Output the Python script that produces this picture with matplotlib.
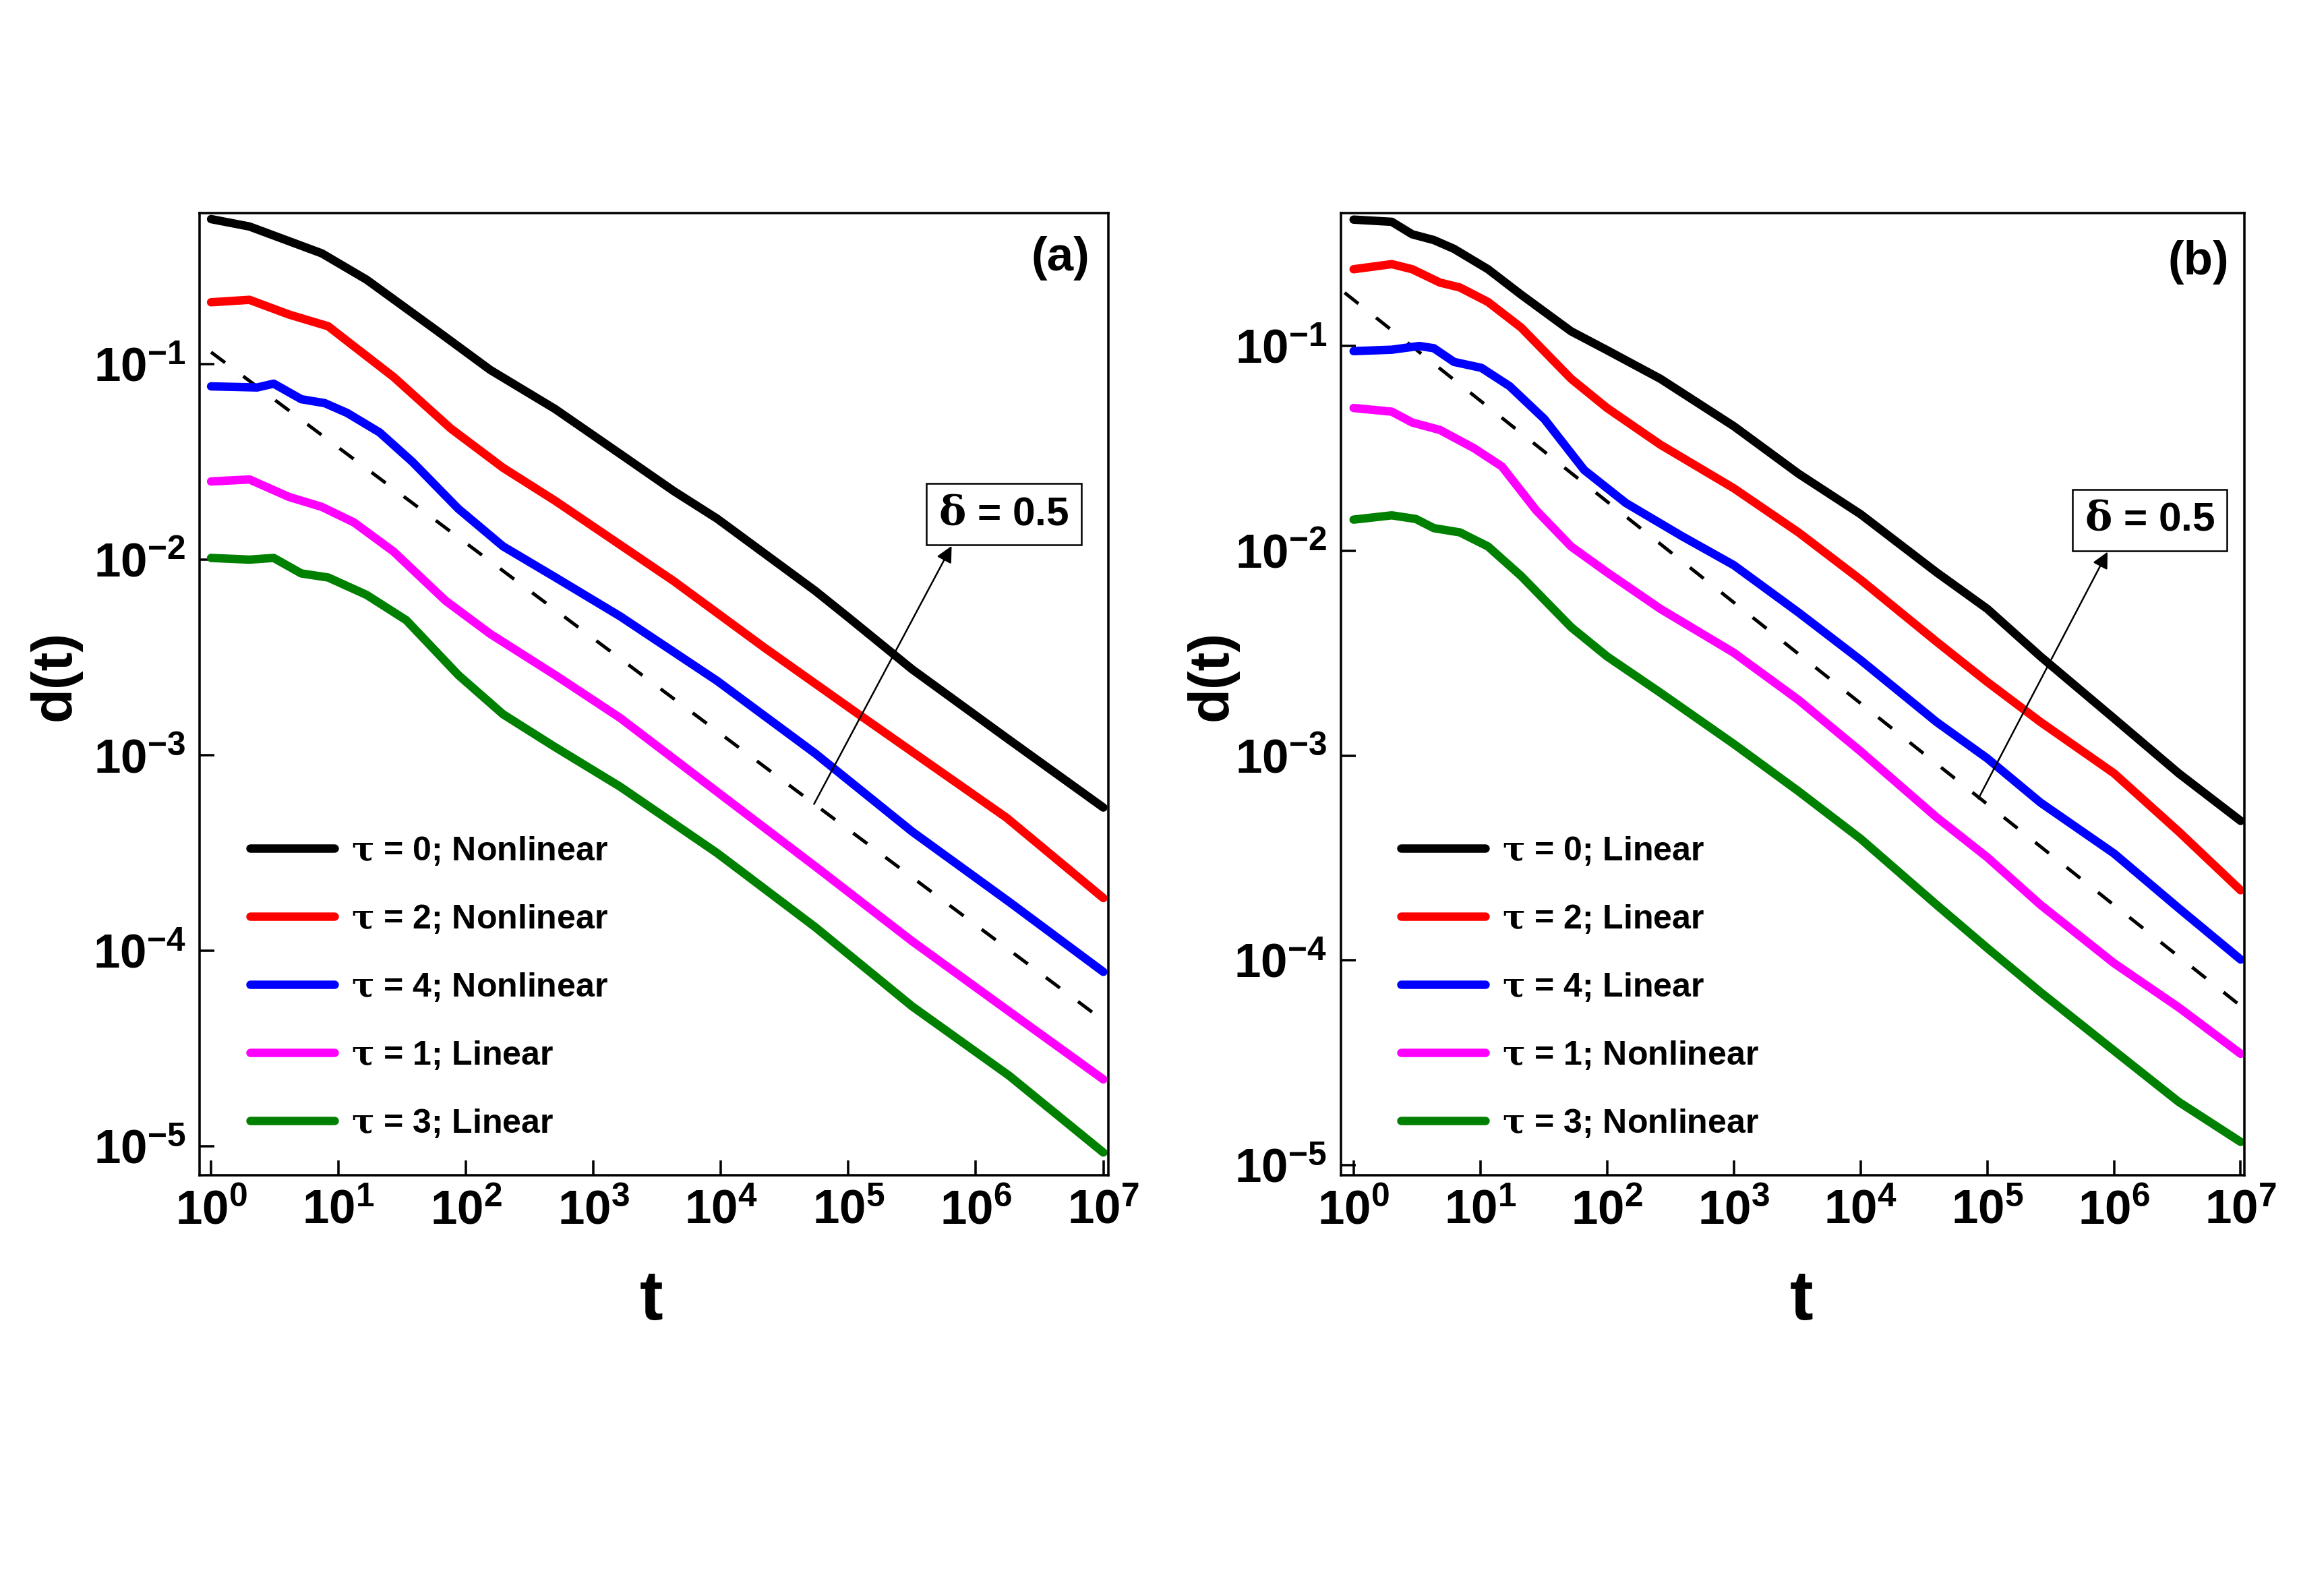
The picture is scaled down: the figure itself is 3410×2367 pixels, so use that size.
import matplotlib
matplotlib.use('Agg')
import matplotlib.pyplot as plt
from matplotlib.ticker import FixedLocator, NullLocator

plt.rcParams['font.family'] = ['Liberation Sans', 'DejaVu Sans']
plt.rcParams['font.weight'] = 'bold'
plt.rcParams['mathtext.fontset'] = 'custom'
plt.rcParams['mathtext.rm'] = 'DejaVu Serif'
plt.rcParams['mathtext.it'] = 'DejaVu Serif:italic'
plt.rcParams['mathtext.bf'] = 'Liberation Sans:bold'

# ---------------- panel (a) data ----------------
a_black_t = [1, 2.0, 7.4, 16.6, 60, 155, 500, 1620, 4270, 9330, 5.5e4, 1.02e5, 3.16e5, 1.82e6, 1e7]
a_black_d = [0.551, 0.505, 0.368, 0.270, 0.147, 0.0933, 0.0589, 0.0347, 0.0224, 0.0162, 0.00692, 0.00501,
             0.00275, 0.00120, 5.4e-4]

a_red_t = [1, 2.0, 4.1, 8.3, 11.7, 27, 76, 195, 500, 4270, 2.19e4, 1.2e5, 1.74e6, 1e7]
a_red_d = [0.207, 0.213, 0.179, 0.156, 0.131, 0.0859, 0.0468, 0.0295, 0.0200, 0.00776, 0.00355, 0.00162,
           4.79e-4, 1.86e-4]

a_blue_t = [1, 2.3, 3.1, 5.1, 7.8, 11.7, 21, 38, 87, 195, 500, 1620, 9330, 5.5e4, 3.16e5, 1.82e6, 1e7]
a_blue_d = [0.0769, 0.0759, 0.0794, 0.0661, 0.0631, 0.0562, 0.0447, 0.0316, 0.0182, 0.0117, 0.00813, 0.00513,
            0.00240, 0.00102, 4.07e-4, 1.78e-4, 7.8e-5]

a_mag_t = [1, 2.0, 4.1, 7.4, 13.2, 27, 69, 155, 500, 1620, 9330, 5.5e4, 3.16e5, 1.82e6, 1e7]
a_mag_d = [0.0251, 0.0257, 0.0209, 0.0186, 0.0155, 0.0110, 0.00617, 0.00417, 0.00257, 0.00155, 6.5e-4, 2.7e-4,
           1.12e-4, 4.9e-5, 2.2e-5]

a_green_t = [1, 2.0, 3.1, 5.1, 8.3, 16.6, 34, 87, 195, 500, 1620, 9330, 5.5e4, 3.16e5, 1.82e6, 1e7]
a_green_d = [0.0102, 0.0100, 0.0102, 0.0085, 0.0081, 0.0066, 0.0049, 0.00257, 0.00162, 0.00110, 6.9e-4, 3.16e-4,
             1.32e-4, 5.2e-5, 2.3e-5, 9.3e-6]

a_fit_t = [1, 1e7]
a_fit_d = [0.115, 4.4e-5]

a_labels = ['$\\mathrm{\\tau}$ = 0; Nonlinear', '$\\mathrm{\\tau}$ = 2; Nonlinear', '$\\mathrm{\\tau}$ = 4; Nonlinear',
            '$\\mathrm{\\tau}$ = 1; Linear', '$\\mathrm{\\tau}$ = 3; Linear']

# ---------------- panel (b) data ----------------
b_black_t = [1, 2.0, 2.9, 4.3, 6.2, 11.5, 21, 52, 98, 263, 1e3, 3240, 1e4, 3.98e4, 1e5, 2.63e5, 1e6, 3.24e6, 1e7]
b_black_d = [0.414, 0.404, 0.351, 0.329, 0.298, 0.237, 0.178, 0.118, 0.0960, 0.0692, 0.0406, 0.0238, 0.0151,
             0.00785, 0.00521, 0.00305, 0.00152, 8.2e-4, 4.8e-4]

b_red_t = [1, 2.0, 2.9, 4.8, 6.9, 11.5, 21, 52, 100, 263, 1e3, 3240, 1e4, 3.98e4, 1e5, 2.63e5, 1e6, 3.24e6, 1e7]
b_red_d = [0.237, 0.251, 0.237, 0.204, 0.193, 0.164, 0.123, 0.0692, 0.0498, 0.0330, 0.0202, 0.0123, 0.00723,
           0.00360, 0.00229, 0.00146, 8.2e-4, 4.26e-4, 2.2e-4]

b_blue_t = [1, 2.0, 3.3, 4.3, 6.2, 10.2, 17, 32, 66, 141, 389, 1e3, 3240, 1e4, 3.98e4, 1e5, 2.63e5, 1e6, 3.24e6, 1e7]
b_blue_d = [0.0944, 0.0959, 0.100, 0.0975, 0.0836, 0.0782, 0.0637, 0.0440, 0.0248, 0.0171, 0.0118, 0.00851,
            0.00500, 0.00293, 0.00146, 9.7e-4, 5.9e-4, 3.33e-4, 1.80e-4, 1.01e-4]

b_mag_t = [1, 2.0, 2.9, 4.8, 8.9, 14.8, 27.5, 52, 100, 263, 1e3, 3240, 1e4, 3.98e4, 1e5, 2.63e5, 1e6, 3.24e6, 1e7]
b_mag_d = [0.0498, 0.0478, 0.0423, 0.0389, 0.0317, 0.0258, 0.0158, 0.0105, 0.00785, 0.00521, 0.00318, 0.00187,
           0.00105, 5.0e-4, 3.19e-4, 1.87e-4, 9.7e-5, 5.9e-5, 3.5e-5]

b_green_t = [1, 2.0, 3.1, 4.3, 6.9, 11.5, 21, 52, 100, 263, 1e3, 3240, 1e4, 3.98e4, 1e5, 2.63e5, 1e6, 3.24e6, 1e7]
b_green_d = [0.0142, 0.0149, 0.0143, 0.0129, 0.0123, 0.0105, 0.00753, 0.00424, 0.00305, 0.00203, 0.00114, 6.7e-4,
             3.93e-4, 1.87e-4, 1.15e-4, 7.0e-5, 3.63e-5, 2.04e-5, 1.30e-5]

b_fit_t = [0.85, 1e7]
b_fit_d = [0.182, 6.0e-5]

b_labels = ['$\\mathrm{\\tau}$ = 0; Linear', '$\\mathrm{\\tau}$ = 2; Linear', '$\\mathrm{\\tau}$ = 4; Linear',
            '$\\mathrm{\\tau}$ = 1; Nonlinear', '$\\mathrm{\\tau}$ = 3; Nonlinear']

colors = ['black', '#ff0000', '#0000ff', '#ff00ff', '#008000']
x_ticks = [1, 1e1, 1e2, 1e3, 1e4, 1e5, 1e6, 1e7]
y_ticks = [1e-5, 1e-4, 1e-3, 1e-2, 1e-1]

fig = plt.figure(figsize=(3411 / 300, 2367 / 300), dpi=300)
ax_a = fig.add_axes([0.0868, 0.2636, 0.3952, 0.6029])
ax_b = fig.add_axes([0.5831, 0.2636, 0.3929, 0.6029])


def setup(ax, xlim, ylim):
    ax.set_xscale('log')
    ax.set_yscale('log')
    ax.set_xlim(*xlim)
    ax.set_ylim(*ylim)
    ax.xaxis.set_major_locator(FixedLocator(x_ticks))
    ax.yaxis.set_major_locator(FixedLocator(y_ticks))
    ax.xaxis.set_minor_locator(NullLocator())
    ax.yaxis.set_minor_locator(NullLocator())
    ax.set_xticklabels(['$\\mathbf{10^{%d}}$' % i for i in range(8)])
    ax.set_yticklabels(['$\\mathbf{10^{%d}}$' % i for i in range(-5, 0)])
    ax.tick_params(direction='in', length=5.3, width=0.85, top=False, right=False,
                   labelsize=17, pad=5)
    for s in ax.spines.values():
        s.set_linewidth(0.85)


panels = [
    (ax_a, [a_black_t, a_red_t, a_blue_t, a_mag_t, a_green_t],
     [a_black_d, a_red_d, a_blue_d, a_mag_d, a_green_d], a_labels, a_fit_t, a_fit_d,
     (10 ** -0.09, 10 ** 7.04), (10 ** -5.148, 10 ** -0.228), '(a)', (0.947, 0.953),
     (0.885, 0.687), ((10 ** 4.73, 10 ** -3.25), (10 ** 5.81, 10 ** -1.93)),
     (0.0556, 0.354), (-0.159, 0.519), (0.497, -0.131)),
    (ax_b, [b_black_t, b_red_t, b_blue_t, b_mag_t, b_green_t],
     [b_black_d, b_red_d, b_blue_d, b_mag_d, b_green_d], b_labels, b_fit_t, b_fit_d,
     (10 ** -0.10, 10 ** 7.03), (10 ** -5.049, 10 ** -0.351), '(b)', (0.949, 0.949),
     (0.895, 0.681), ((10 ** 4.93, 10 ** -3.21), (10 ** 5.95, 10 ** -2.005)),
     (0.0664, 0.354), (-0.143, 0.519), (0.51, -0.131)),
]

for (ax, ts, ds, labels, ft, fd, xlim, ylim, tag, tagpos, boxpos, arrow,
     legpos, ylabpos, xlabpos) in panels:
    setup(ax, xlim, ylim)
    ax.plot(ft, fd, color='black', lw=1.2, linestyle=(0, (5.2, 6.7)), zorder=1)
    for t, d, c, lab in zip(ts, ds, colors, labels):
        ax.plot(t, d, color=c, lw=3, solid_capstyle='round', solid_joinstyle='round',
                label=lab, zorder=2)
    ax.legend(loc='upper left', bbox_to_anchor=legpos, frameon=False,
              prop={'size': 12, 'weight': 'bold'}, handlelength=2.5, handletextpad=0.5,
              labelspacing=1.06, borderpad=0, borderaxespad=0)
    ax.text(tagpos[0], tagpos[1], tag, transform=ax.transAxes, ha='center', va='center',
            fontsize=17, fontweight='bold')
    ax.text(boxpos[0], boxpos[1], '$\\mathrm{\\delta}$ = 0.5', transform=ax.transAxes,
            ha='center', va='center', fontsize=14.5, fontweight='bold', zorder=5,
            bbox=dict(boxstyle='square,pad=0.3', fc='white', ec='black', lw=0.6))
    ax.annotate('', xy=arrow[1], xytext=arrow[0],
                arrowprops=dict(arrowstyle='-|>', color='black', lw=0.6, mutation_scale=12,
                                shrinkA=0, shrinkB=0), zorder=4)
    ax.text(ylabpos[0], ylabpos[1], 'd(t)', transform=ax.transAxes, rotation=90,
            ha='center', va='center', fontsize=20, fontweight='bold')
    ax.text(xlabpos[0], xlabpos[1], 't', transform=ax.transAxes,
            ha='center', va='center', fontsize=25, fontweight='bold')

fig.savefig('out.png', dpi=300)
